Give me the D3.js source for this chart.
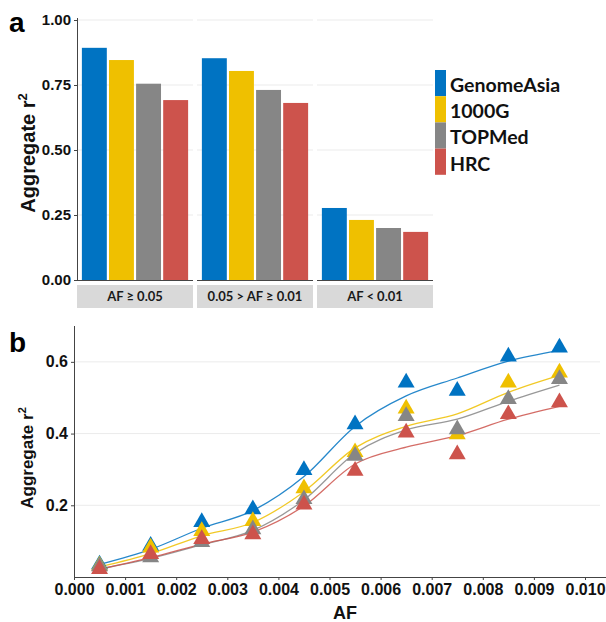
<!DOCTYPE html>
<html>
<head>
<meta charset="utf-8">
<script src="https://cdn.jsdelivr.net/npm/d3@7"></script>
<style>
  body { margin: 0; background: #fff; }
  svg { display: block; }
</style>
</head>
<body>
<div id="chart-container"></div>
<script>
const width = 606
const height = 622

// panel a: aggregate r2 by AF bin
const panels = ['AF \u2265 0.05', '0.05 > AF \u2265 0.01', 'AF < 0.01']
const panels_series = ['GenomeAsia', '1000G', 'TOPMed', 'HRC']
const genomeAsiaBars = [0.893, 0.853, 0.277]
const kgBars = [0.846, 0.804, 0.231]
const topmedBars = [0.755, 0.731, 0.200]
const hrcBars = [0.692, 0.681, 0.185]
const yTicksA = [0, 0.25, 0.5, 0.75, 1]

// panel b: aggregate r2 vs AF (points + fitted curves)
const af = [0.0005, 0.0015, 0.0025, 0.0035, 0.0045, 0.0055, 0.0065, 0.0075, 0.0085, 0.0095]
const genomeAsiaPts = [0.035, 0.087, 0.153, 0.189, 0.298, 0.426, 0.542, 0.519, 0.615, 0.640]
const kgPts = [0.032, 0.082, 0.128, 0.156, 0.247, 0.348, 0.470, 0.398, 0.542, 0.570]
const topmedPts = [0.030, 0.055, 0.097, 0.133, 0.217, 0.338, 0.449, 0.412, 0.496, 0.552]
const hrcPts = [0.022, 0.064, 0.106, 0.119, 0.202, 0.296, 0.403, 0.342, 0.454, 0.487]
const genomeAsiaFit = [0.035, 0.077, 0.136, 0.185, 0.280, 0.420, 0.505, 0.555, 0.602, 0.632]
const kgFit = [0.028, 0.065, 0.115, 0.152, 0.238, 0.360, 0.420, 0.455, 0.515, 0.562]
const topmedFit = [0.022, 0.052, 0.090, 0.130, 0.215, 0.345, 0.410, 0.440, 0.490, 0.535]
const hrcFit = [0.022, 0.054, 0.092, 0.125, 0.198, 0.315, 0.362, 0.394, 0.440, 0.476]
const xTicksB = [0, 0.001, 0.002, 0.003, 0.004, 0.005, 0.006, 0.007, 0.008, 0.009, 0.010]
const yTicksB = [0.2, 0.4, 0.6]

const colors = ['#0073C2', '#EFC000', '#868686', '#CD534C']
const barSets = [genomeAsiaBars, kgBars, topmedBars, hrcBars]
const ptSets = [genomeAsiaPts, kgPts, topmedPts, hrcPts]
const fitSets = [genomeAsiaFit, kgFit, topmedFit, hrcFit]

const svg = d3.select('#chart-container')
  .append('svg')
  .attr('width', width)
  .attr('height', height)

const tickFont = '"Liberation Sans", Arial, sans-serif'
const calFont = 'Lato, "Open Sans", sans-serif'

// ---------- panel a ----------
const yA = d3.scaleLinear().domain([0, 1]).range([280, 20])
const facetX = d3.scaleOrdinal().domain(panels).range([77, 197, 317])
const facetW = 116
const xA = d3.scaleBand()
  .domain(panels_series)
  .range([0, facetW])
  .paddingInner(0.08)
  .paddingOuter(0.18)

panels.forEach((p, pi) => {
  const g = svg.append('g').attr('transform', `translate(${facetX(p)},0)`)

  g.selectAll('line.grid')
    .data(yTicksA.filter(d => d > 0))
    .enter()
    .append('line')
    .attr('x1', 0).attr('x2', facetW)
    .attr('y1', d => yA(d)).attr('y2', d => yA(d))
    .attr('stroke', '#ebebeb')

  g.selectAll('rect.bar')
    .data(panels_series.map((s, si) => ({s, v: barSets[si][pi], c: colors[si]})))
    .enter()
    .append('rect')
    .attr('x', d => xA(d.s))
    .attr('y', d => yA(d.v))
    .attr('width', xA.bandwidth())
    .attr('height', d => yA(0) - yA(d.v))
    .attr('fill', d => d.c)

  g.append('line')
    .attr('x1', 0).attr('x2', facetW)
    .attr('y1', 280.5).attr('y2', 280.5)
    .attr('stroke', '#444')

  g.append('rect')
    .attr('x', 0).attr('y', 285)
    .attr('width', facetW).attr('height', 23)
    .attr('fill', '#d9d9d9')

  g.append('text')
    .attr('x', facetW / 2).attr('y', 301)
    .attr('text-anchor', 'middle')
    .attr('font-family', calFont)
    .attr('font-weight', 'bold')
    .attr('font-size', 13)
    .attr('fill', '#1a1a1a')
    .text(p)
})

const axA = svg.append('g')
  .attr('transform', 'translate(77,0)')
  .call(d3.axisLeft(yA).tickValues(yTicksA).tickFormat(d3.format('.2f')).tickSize(3).tickPadding(3))
axA.select('.domain').attr('stroke', '#444').attr('d', 'M0.5,18V280.5')
axA.selectAll('.tick line').attr('stroke', '#444')
axA.selectAll('.tick text')
  .attr('font-family', tickFont).attr('font-weight', 'bold')
  .attr('font-size', 15).attr('fill', '#111')

svg.append('text')
  .attr('transform', 'translate(35,153) rotate(-90)')
  .attr('text-anchor', 'middle')
  .attr('font-family', tickFont).attr('font-weight', 'bold')
  .attr('font-size', 20).attr('fill', '#111')
  .text('Aggregate r')
  .append('tspan')
  .attr('dy', -8).attr('font-size', 13)
  .text('2')

// legend
const leg = svg.append('g').attr('transform', 'translate(435,70)')
panels_series.forEach((s, i) => {
  leg.append('rect')
    .attr('x', 0).attr('y', i * 26.2)
    .attr('width', 11).attr('height', 26.2)
    .attr('fill', colors[i])
  leg.append('text')
    .attr('x', 15).attr('y', i * 26.2 + 22)
    .attr('font-family', calFont).attr('font-weight', 'bold')
    .attr('font-size', 19.5).attr('fill', '#111')
    .text(s)
})

// ---------- panel b ----------
const xB = d3.scaleLinear().domain([0, 0.01]).range([74, 585])
const yB = d3.scaleLinear().domain([0, 0.7]).range([577, 326])

svg.append('g').selectAll('line')
  .data(yTicksB)
  .enter()
  .append('line')
  .attr('x1', 74).attr('x2', 600)
  .attr('y1', d => yB(d)).attr('y2', d => yB(d))
  .attr('stroke', '#ebebeb')

const line = d3.line()
  .x((d, i) => xB(af[i]))
  .y(d => yB(d))
  .curve(d3.curveMonotoneX)

fitSets.forEach((f, i) => {
  svg.append('path')
    .attr('d', line(f))
    .attr('fill', 'none')
    .attr('stroke', colors[i])
    .attr('stroke-width', 1.3)
    .attr('opacity', 0.85)
})

const tri = d3.symbol().type(d3.symbolTriangle).size(125)
ptSets.forEach((pts, i) => {
  svg.append('g').selectAll('path')
    .data(pts)
    .enter()
    .append('path')
    .attr('transform', (d, j) => `translate(${xB(af[j])},${yB(d)})`)
    .attr('d', tri)
    .attr('fill', colors[i])
})

const axBx = svg.append('g')
  .attr('transform', 'translate(0,577)')
  .call(d3.axisBottom(xB).tickValues(xTicksB).tickFormat(d3.format('.3f')).tickSize(3).tickPadding(4))
axBx.select('.domain').attr('stroke', '#444').attr('d', 'M74,0.5H606')
axBx.selectAll('.tick line').attr('stroke', '#444')
axBx.selectAll('.tick text')
  .attr('font-family', tickFont).attr('font-weight', 'bold')
  .attr('font-size', 16).attr('fill', '#111')

const axBy = svg.append('g')
  .attr('transform', 'translate(74,0)')
  .call(d3.axisLeft(yB).tickValues(yTicksB).tickFormat(d3.format('.1f')).tickSize(3).tickPadding(3))
axBy.select('.domain').attr('stroke', '#444').attr('d', 'M0.5,326V577.5')
axBy.selectAll('.tick line').attr('stroke', '#444')
axBy.selectAll('.tick text')
  .attr('font-family', tickFont).attr('font-weight', 'bold')
  .attr('font-size', 16).attr('fill', '#111')

svg.append('text')
  .attr('transform', 'translate(33,458) rotate(-90)')
  .attr('text-anchor', 'middle')
  .attr('font-family', tickFont).attr('font-weight', 'bold')
  .attr('font-size', 17).attr('fill', '#111')
  .text('Aggregate r')
  .append('tspan')
  .attr('dy', -7).attr('font-size', 11)
  .text('2')

svg.append('text')
  .attr('x', 345).attr('y', 619)
  .attr('text-anchor', 'middle')
  .attr('font-family', tickFont).attr('font-weight', 'bold')
  .attr('font-size', 18).attr('fill', '#111')
  .text('AF')

// panel letters
svg.append('text')
  .attr('x', 9).attr('y', 32)
  .attr('font-family', tickFont).attr('font-weight', 'bold')
  .attr('font-size', 28).attr('fill', '#000')
  .text('a')
svg.append('text')
  .attr('x', 9).attr('y', 352)
  .attr('font-family', tickFont).attr('font-weight', 'bold')
  .attr('font-size', 28).attr('fill', '#000')
  .text('b')
</script>
</body>
</html>
